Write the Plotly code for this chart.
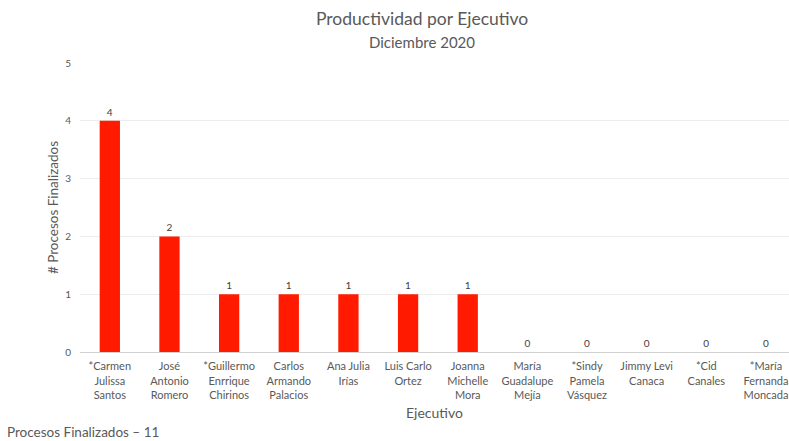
import plotly.graph_objects as go

ejecutivos = [
    "*Carmen<br>Julissa<br>Santos",
    "José<br>Antonio<br>Romero",
    "*Guillermo<br>Enrrique<br>Chirinos",
    "Carlos<br>Armando<br>Palacios",
    "Ana Julia<br>Irías",
    "Luis Carlo<br>Ortez",
    "Joanna<br>Michelle<br>Mora",
    "María<br>Guadalupe<br>Mejía",
    "*Sindy<br>Pamela<br>Vásquez",
    "Jimmy Levi<br>Canaca",
    "*Cid<br>Canales",
    "*María<br>Fernanda<br>Moncada",
]
procesos = [4, 2, 1, 1, 1, 1, 1, 0, 0, 0, 0, 0]
y_ticks = [0, 1, 2, 3, 4, 5]

FONT = "Lato"
GRAY = "#595959"

W, H = 789, 441
pl, pr, pt, pb = 80, 0, 63, 89
pw, ph = W - pl - pr, H - pt - pb

fig = go.Figure(go.Bar(
    x=list(range(len(ejecutivos))),
    y=procesos,
    marker=dict(color="#FF1A00", line=dict(width=0)),
    width=0.34,
    text=[str(v) for v in procesos],
    textposition="outside",
    textfont=dict(family=FONT, size=10, color="#404040"),
    cliponaxis=False,
))


def px_ann(text, x, y, size, xanchor="center"):
    return dict(text=text, xref="paper", yref="paper",
                x=(x - pl) / pw, y=((H - y) - pb) / ph,
                xanchor=xanchor, yanchor="middle", showarrow=False,
                font=dict(family=FONT, size=size, color=GRAY))


fig.update_layout(
    width=W, height=H,
    margin=dict(l=pl, r=pr, t=pt, b=pb),
    plot_bgcolor="white", paper_bgcolor="white",
    showlegend=False,
    font=dict(family=FONT, color=GRAY),
    xaxis=dict(
        tickmode="array",
        tickvals=list(range(len(ejecutivos))),
        ticktext=ejecutivos,
        range=[-0.5, 11.386],
        showgrid=False,
        showline=True, linecolor="#D0D0D0", linewidth=1,
        ticks="",
        ticklabelstandoff=4,
        tickfont=dict(family=FONT, size=11, color=GRAY),
        tickangle=0,
        title=dict(text="Ejecutivo", font=dict(family=FONT, size=14, color=GRAY), standoff=8),
    ),
    yaxis=dict(
        range=[0, 5],
        tickvals=y_ticks,
        showgrid=True, gridcolor="#EDEDED", gridwidth=1,
        zeroline=False,
        showline=False,
        ticks="",
        ticklabelstandoff=8,
        tickfont=dict(family=FONT, size=10, color=GRAY),
        title=dict(text="# Procesos Finalizados", font=dict(family=FONT, size=13.5, color=GRAY), standoff=3),
    ),
    annotations=[
        px_ann("Productividad por Ejecutivo", 422, 18, 17.5),
        px_ann("Diciembre 2020", 422, 42, 15),
        px_ann("Procesos Finalizados – 11", 5, 432, 13.5, xanchor="left"),
    ],
)

fig.write_html("out.html")
